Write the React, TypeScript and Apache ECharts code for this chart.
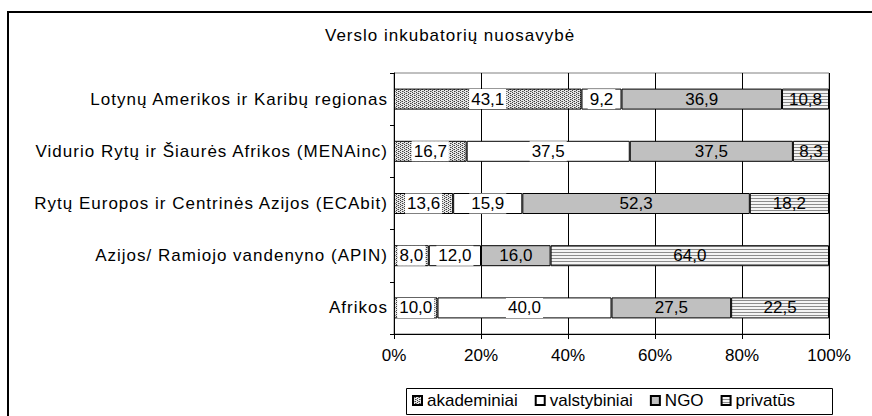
import React, { useEffect, useRef } from "react";
import * as echarts from "echarts";

const categories = [
  "Afrikos",
  "Azijos/ Ramiojo vandenyno (APIN)",
  "Rytų Europos ir Centrinės Azijos (ECAbit)",
  "Vidurio Rytų ir Šiaurės Afrikos (MENAinc)",
  "Lotynų Amerikos ir Karibų regionas",
];
const seriesNames = ["akademiniai", "valstybiniai", "NGO", "privatūs"];
const akademiniai = [10.0, 8.0, 13.6, 16.7, 43.1];
const valstybiniai = [40.0, 12.0, 15.9, 37.5, 9.2];
const ngo = [27.5, 16.0, 52.3, 37.5, 36.9];
const privatus = [22.5, 64.0, 18.2, 8.3, 10.8];
const xTicks = [0, 20, 40, 60, 80, 100];

function makeDots() {
  const c = document.createElement("canvas");
  c.width = 4;
  c.height = 4;
  const g = c.getContext("2d")!;
  g.fillStyle = "#e8e8e8";
  g.fillRect(0, 0, 4, 4);
  g.fillStyle = "#404040";
  g.fillRect(0, 0, 1, 1);
  g.fillRect(2, 1, 1, 1);
  g.fillRect(0, 2, 1, 1);
  g.fillRect(2, 3, 1, 1);
  g.fillStyle = "#909090";
  g.fillRect(1, 1, 1, 1);
  g.fillRect(3, 3, 1, 1);
  return c;
}
function makeLines() {
  const c = document.createElement("canvas");
  c.width = 4;
  c.height = 3;
  const g = c.getContext("2d")!;
  g.fillStyle = "#f4f4f4";
  g.fillRect(0, 0, 4, 3);
  g.fillStyle = "#8c8c8c";
  g.fillRect(0, 0, 4, 1);
  return c;
}

const fmt = (p: any) => Number(p.value).toFixed(1).replace(".", ",");

export default function App() {
  const ref = useRef<HTMLDivElement>(null);
  useEffect(() => {
    document.body.style.margin = "0";
    const st = document.createElement("style");
    st.textContent =
      'text[style*="spacedfont"], text[font-family*="spacedfont"] { letter-spacing: 1px; }';
    document.head.appendChild(st);
    const chart = echarts.init(ref.current!, null, { renderer: "svg" });
    const font = "Liberation Sans, Arial, sans-serif";
    const spaced = "spacedfont, Liberation Sans, Arial, sans-serif";
    const colors = [
      { image: makeDots(), repeat: "repeat" },
      "#ffffff",
      "#c0c0c0",
      { image: makeLines(), repeat: "repeat" },
    ];
    const datas = [akademiniai, valstybiniai, ngo, privatus];
    chart.setOption({
      animation: false,
      title: {
        text: "Verslo inkubatorių nuosavybė",
        left: 320,
        top: 22,
        textStyle: { fontFamily: spaced, fontSize: 17, fontWeight: "normal", color: "#000" },
      },
      graphic: [
        {
          type: "rect",
          shape: { x: 8, y: 12, width: 900, height: 500 },
          style: { fill: "none", stroke: "#000", lineWidth: 2 },
          silent: true,
        },
        {
          type: "rect",
          shape: { x: 406.5, y: 388.5, width: 426, height: 26 },
          style: { fill: "#fff", stroke: "#000", lineWidth: 1 },
          silent: true,
          z: -1,
        },
      ],
      legend: {
        left: 406,
        top: 392,
        orient: "horizontal",
        borderWidth: 0,
        padding: [0, 0, 0, 6],
        itemWidth: 9,
        itemHeight: 9,
        itemGap: 17,
        icon: "rect",
        textStyle: { fontFamily: font, fontSize: 17, color: "#000" },
        data: seriesNames,
      },
      grid: {
        left: 394,
        right: 43,
        top: 73,
        bottom: 82,
        show: true,
        borderColor: "#808080",
        borderWidth: 1,
        containLabel: false,
      },
      xAxis: {
        type: "value",
        min: xTicks[0],
        max: xTicks[xTicks.length - 1],
        interval: 20,
        axisLine: { show: true, lineStyle: { color: "#000", width: 1 } },
        axisTick: { show: true, length: 5, lineStyle: { color: "#000" } },
        axisLabel: {
          formatter: "{value}%",
          margin: 13,
          fontFamily: font,
          fontSize: 17,
          color: "#000",
        },
        splitLine: { show: true, lineStyle: { color: "#000", width: 1 } },
      },
      yAxis: {
        type: "category",
        data: categories,
        axisLine: { show: true, lineStyle: { color: "#000", width: 1 } },
        axisTick: { show: true, length: 4, lineStyle: { color: "#000" } },
        axisLabel: { margin: 6, fontFamily: spaced, fontSize: 17, color: "#000" },
      },
      series: seriesNames.map((name, i) => ({
        name,
        type: "bar",
        stack: "total",
        barWidth: 21,
        data: datas[i],
        itemStyle: { color: colors[i], borderColor: "#000", borderWidth: 1 },
        label: {
          show: true,
          position: "inside",
          formatter: fmt,
          fontFamily: font,
          fontSize: 17,
          color: "#000",
          backgroundColor: i < 2 ? "#fff" : "transparent",
          padding: [2, 2, 1, 2],
        },
      })),
    });
    return () => {
      chart.dispose();
      st.remove();
    };
  }, []);
  return <div ref={ref} style={{ width: 872, height: 416 }} />;
}
